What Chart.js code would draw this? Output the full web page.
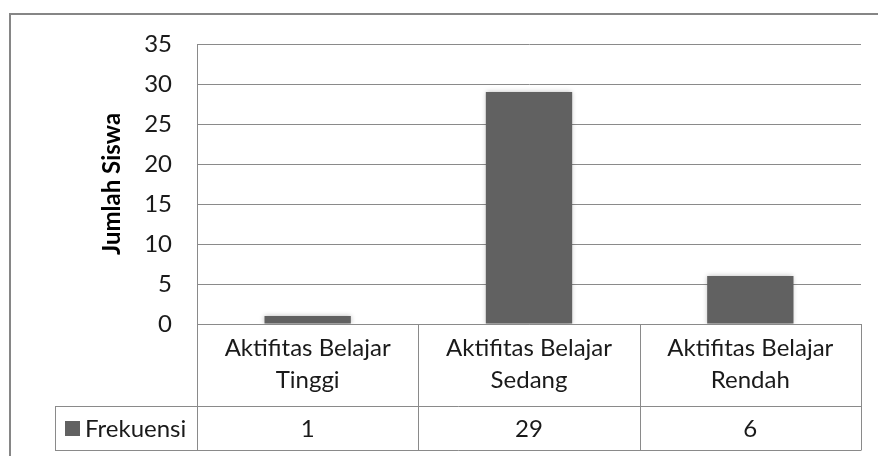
<!DOCTYPE html>
<html>
<head>
<meta charset="utf-8">
<script src="https://cdn.jsdelivr.net/npm/chart.js@4/dist/chart.umd.min.js"></script>
<style>
  html, body { margin: 0; padding: 0; background: #fff; }
  #wrap { width: 878px; height: 456px; }
</style>
</head>
<body>
<div id="wrap"><canvas id="chart" width="878" height="456"></canvas></div>
<script>
const categories = [
    ['Aktifitas Belajar', 'Tinggi'],
    ['Aktifitas Belajar', 'Sedang'],
    ['Aktifitas Belajar', 'Rendah']
];
const seriesName = 'Frekuensi';
const frekuensi = [1, 29, 6];
const yMin = 0;
const yMax = 35;
const yStep = 5;
const yTitle = 'Jumlah Siswa';

const FONT = 'Lato, "Open Sans", sans-serif';
const LINE = '#8a8a8a';
const BAR = '#616161';
const TEXT = '#1a1a1a';

// outer frame of the chart object
const framePlugin = {
    id: 'frame',
    beforeDraw(chart) {
        const ctx = chart.ctx;
        ctx.save();
        ctx.fillStyle = '#fff';
        ctx.fillRect(0, 0, chart.width, chart.height);
        ctx.strokeStyle = '#868686';
        ctx.lineWidth = 2;
        ctx.strokeRect(10, 14, chart.width + 20, chart.height + 20);
        ctx.restore();
    }
};

// soft shadow round the bars
const shadowPlugin = {
    id: 'barShadow',
    beforeDatasetsDraw(chart) {
        const ctx = chart.ctx;
        ctx.save();
        ctx.shadowColor = 'rgba(0,0,0,0.28)';
        ctx.shadowBlur = 5;
    },
    afterDatasetsDraw(chart) {
        chart.ctx.restore();
    }
};

// data table under the plot
const tablePlugin = {
    id: 'dataTable',
    afterDraw(chart) {
        const ctx = chart.ctx;
        const x = chart.scales.x;
        const area = chart.chartArea;
        const half = (x.getPixelForValue(1) - x.getPixelForValue(0)) / 2;
        const top = area.bottom;
        const rowTop = top + 82;
        const rowBottom = rowTop + 44;
        const legendLeft = 55;

        ctx.save();
        ctx.strokeStyle = LINE;
        ctx.lineWidth = 1;
        ctx.beginPath();
        for (let i = 0; i < categories.length; i++) {
            const left = Math.round(x.getPixelForValue(i) - half) + 0.5;
            ctx.moveTo(left, top);
            ctx.lineTo(left, rowBottom);
        }
        const right = Math.round(x.getPixelForValue(categories.length - 1) + half) + 0.5;
        ctx.moveTo(right, top);
        ctx.lineTo(right, rowBottom);
        ctx.moveTo(legendLeft + 0.5, rowTop);
        ctx.lineTo(legendLeft + 0.5, rowBottom);
        ctx.moveTo(legendLeft, rowTop + 0.5);
        ctx.lineTo(right, rowTop + 0.5);
        ctx.moveTo(legendLeft, rowBottom + 0.5);
        ctx.lineTo(right, rowBottom + 0.5);
        ctx.stroke();

        const midY = (rowTop + rowBottom) / 2 + 1;
        ctx.fillStyle = TEXT;
        ctx.font = '24px ' + FONT;
        ctx.textBaseline = 'middle';
        ctx.textAlign = 'center';
        frekuensi.forEach((v, i) => {
            ctx.fillText(String(v), x.getPixelForValue(i), midY);
        });

        // legend key
        ctx.fillStyle = BAR;
        ctx.fillRect(legendLeft + 10, midY - 8, 15, 15);
        ctx.fillStyle = TEXT;
        ctx.textAlign = 'left';
        ctx.fillText(seriesName, legendLeft + 30, midY);
        ctx.restore();
    }
};

new Chart(document.getElementById('chart'), {
    type: 'bar',
    data: {
        labels: categories,
        datasets: [{
            label: seriesName,
            data: frekuensi,
            backgroundColor: BAR,
            borderWidth: 0,
            categoryPercentage: 1,
            barPercentage: 0.39
        }]
    },
    options: {
        responsive: false,
        animation: false,
        layout: { padding: { left: 98, top: 44, right: 17, bottom: 0 } },
        plugins: {
            legend: { display: false },
            tooltip: { enabled: false }
        },
        scales: {
            x: {
                grid: { display: false, drawTicks: false },
                border: { display: true, color: LINE, width: 1 },
                ticks: {
                    color: TEXT,
                    font: { family: FONT, size: 24, lineHeight: 1.33 },
                    padding: 8,
                    maxRotation: 0,
                    autoSkip: false
                },
                afterFit(scale) { scale.height = 132; }
            },
            y: {
                min: yMin,
                max: yMax,
                grid: { color: LINE, drawTicks: false, lineWidth: 1 },
                border: { display: true, color: LINE, width: 1 },
                ticks: {
                    stepSize: yStep,
                    color: TEXT,
                    font: { family: FONT, size: 24 },
                    padding: 25
                },
                title: {
                    display: true,
                    text: yTitle,
                    color: '#000',
                    font: { family: FONT, size: 24, weight: 'bold' },
                    padding: 0
                },
                afterFit(scale) { scale.width = 99; }
            }
        }
    },
    plugins: [framePlugin, shadowPlugin, tablePlugin]
});
</script>
</body>
</html>
